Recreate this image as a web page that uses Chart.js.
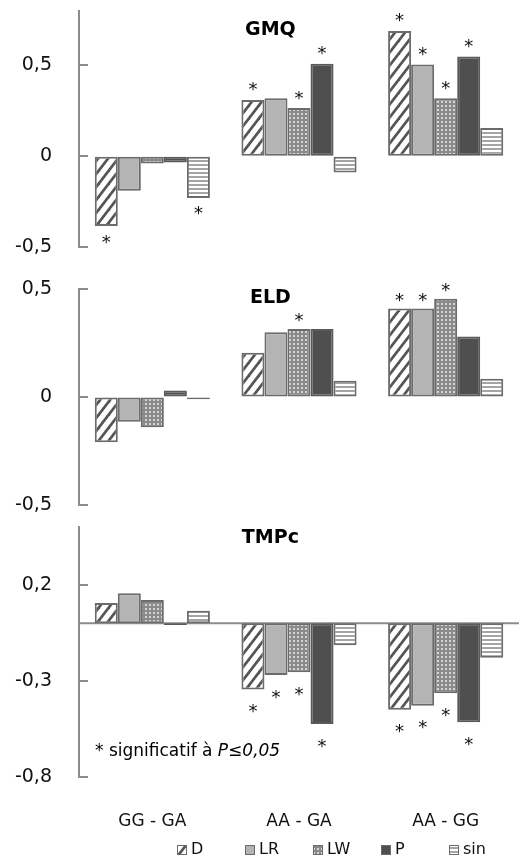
<!DOCTYPE html>
<html>
<head>
<meta charset="utf-8">
<script src="https://cdn.jsdelivr.net/npm/chart.js@4.4.0/dist/chart.umd.min.js"></script>
<style>
  html, body { margin: 0; padding: 0; background: #fff; }
  #wrap { position: relative; width: 519px; height: 861px; }
  canvas { position: absolute; left: 0; }
</style>
</head>
<body>
<div id="wrap">
  <canvas id="gmq" width="519" height="262" style="top:0"></canvas>
  <canvas id="eld" width="519" height="250" style="top:270px"></canvas>
  <canvas id="tmpc" width="519" height="346" style="top:515px"></canvas>
</div>
<script>
const categories = ['GG - GA', 'AA - GA', 'AA - GG']
const seriesNames = ['D', 'LR', 'LW', 'P', 'sin']

// GMQ
const gmqD = [-0.385, 0.31, 0.69]
const gmqLR = [-0.19, 0.32, 0.505]
const gmqLW = [-0.04, 0.265, 0.32]
const gmqP = [-0.035, 0.51, 0.55]
const gmqSin = [-0.23, -0.09, 0.155]
const gmqStars = [['D', 'sin'], ['D', 'LW', 'P'], ['D', 'LR', 'LW', 'P']]
const gmqTicks = [-0.5, 0, 0.5]
const gmqRange = [-0.5, 0.8]

// ELD
const eldD = [-0.21, 0.205, 0.41]
const eldLR = [-0.115, 0.30, 0.41]
const eldLW = [-0.14, 0.315, 0.455]
const eldP = [0.03, 0.315, 0.28]
const eldSin = [-0.01, 0.075, 0.085]
const eldStars = [[], ['LW'], ['D', 'LR', 'LW']]
const eldTicks = [-0.5, 0, 0.5]
const eldRange = [-0.5, 0.5]

// TMPc
const tmpcD = [0.105, -0.345, -0.45]
const tmpcLR = [0.155, -0.27, -0.43]
const tmpcLW = [0.12, -0.255, -0.365]
const tmpcP = [-0.01, -0.525, -0.515]
const tmpcSin = [0.065, -0.115, -0.18]
const tmpcStars = [[], ['D', 'LR', 'LW', 'P'], ['D', 'LR', 'LW', 'P']]
const tmpcTicks = [-0.8, -0.3, 0.2]
const tmpcRange = [-0.8, 0.5]

const FONT = '"DejaVu Sans", sans-serif'
const axisGray = '#8c8c8c'
const edge = '#6b6b6b'

function tile(w, h, paint) {
  const c = document.createElement('canvas')
  c.width = w; c.height = h
  const g = c.getContext('2d')
  paint(g, w, h)
  return g.createPattern(c, 'repeat')
}

// motifs des séries
const fills = {
  D: tile(10, 13, (g, w, h) => {
    g.fillStyle = '#fff'; g.fillRect(0, 0, w, h)
    g.strokeStyle = '#555'; g.lineWidth = 2.7
    for (let k = -1; k <= 1; k++) {
      g.beginPath()
      g.moveTo(w * (k - 1), 2 * h)
      g.lineTo(w * (k + 2), -h)
      g.stroke()
    }
  }),
  LR: '#b4b4b4',
  LW: tile(4, 4, (g, w, h) => {
    g.fillStyle = '#8a8a8a'; g.fillRect(0, 0, w, h)
    g.fillStyle = '#d4d4d4'; g.fillRect(1, 1, 2, 2)
  }),
  P: '#4f4f4f',
  sin: tile(4, 4, (g, w, h) => {
    g.fillStyle = '#fff'; g.fillRect(0, 0, w, h)
    g.fillStyle = '#a4a4a4'; g.fillRect(0, 0, w, 2)
  })
}

const fmt = v => String(v).replace('.', ',')

const decor = {
  id: 'decor',
  beforeDatasetsDraw(chart, args, o) {
    if (!o.zeroLine) return
    const { ctx, chartArea: a, scales: { y } } = chart
    const py = y.getPixelForValue(0)
    ctx.save()
    ctx.strokeStyle = axisGray
    ctx.lineWidth = 2
    ctx.beginPath(); ctx.moveTo(a.left, py); ctx.lineTo(a.right, py); ctx.stroke()
    ctx.restore()
  },
  afterDatasetsDraw(chart, args, o) {
    const { ctx, chartArea: a, scales: { y } } = chart
    ctx.save()

    // petites graduations vers l'intérieur
    ctx.strokeStyle = axisGray
    ctx.lineWidth = 2
    y.ticks.forEach(t => {
      const py = Math.round(y.getPixelForValue(t.value))
      ctx.beginPath(); ctx.moveTo(a.left, py); ctx.lineTo(a.left + 9, py); ctx.stroke()
    })

    // astérisques de significativité
    ctx.font = '18px ' + FONT
    ctx.fillStyle = '#111'
    ctx.textAlign = 'center'
    ctx.textBaseline = 'alphabetic'
    const m = ctx.measureText('*')
    const shift = (m.actualBoundingBoxAscent - m.actualBoundingBoxDescent) / 2
    chart.data.datasets.forEach((ds, i) => {
      chart.getDatasetMeta(i).data.forEach((bar, j) => {
        if (!o.stars[j].includes(ds.label)) return
        const cy = ds.data[j] >= 0 ? bar.y - o.starGap : bar.y + o.starGap
        ctx.fillText('*', bar.x, cy + shift)
      })
    })

    // titre du panneau
    ctx.font = 'bold 19px ' + FONT
    ctx.fillStyle = '#000'
    ctx.textBaseline = 'middle'
    ctx.fillText(o.title, a.left + 0.435 * (a.right - a.left), a.top + o.titleDy)

    // note
    if (o.note) {
      ctx.textAlign = 'left'
      ctx.font = '17px ' + FONT
      const x0 = a.left + 16
      const yy = a.bottom - 25
      ctx.fillText('* significatif à ', x0, yy)
      const w = ctx.measureText('* significatif à ').width
      ctx.font = 'italic 17px ' + FONT
      ctx.fillText('P≤0,05', x0 + w, yy)
    }

    // légende
    if (o.legend) {
      const items = Chart.defaults.plugins.legend.labels.generateLabels(chart)
      ctx.font = '16px ' + FONT
      ctx.textAlign = 'left'
      ctx.textBaseline = 'middle'
      const ly = chart.height - 11
      items.forEach((it, k) => {
        const x = 177 + k * 68
        ctx.fillStyle = it.fillStyle
        ctx.fillRect(x, ly - 5, 10, 10)
        ctx.strokeStyle = edge
        ctx.lineWidth = 1
        ctx.strokeRect(x + 0.5, ly - 4.5, 9, 9)
        ctx.fillStyle = '#111'
        ctx.fillText(it.text, x + 14, ly)
      })
    }
    ctx.restore()
  }
}

function panel(id, values, range, ticks, extra) {
  const datasets = seriesNames.map((name, i) => ({
    label: name,
    data: values[i],
    backgroundColor: fills[name],
    borderColor: name === 'P' ? '#5a5a5a' : edge,
    borderWidth: 2,
    borderSkipped: false,
    categoryPercentage: 0.785,
    barPercentage: 1
  }))
  return new Chart(document.getElementById(id), {
    type: 'bar',
    plugins: [decor],
    data: { labels: categories, datasets },
    options: {
      responsive: false,
      animation: false,
      layout: { padding: extra.padding },
      plugins: {
        legend: { display: false },
        tooltip: { enabled: false },
        decor: extra
      },
      scales: {
        x: {
          display: extra.showX,
          grid: { display: false },
          border: { display: false },
          ticks: {
            autoSkip: false,
            maxRotation: 0,
            padding: 26,
            color: '#111',
            font: { family: FONT, size: 17 }
          },
          afterFit: s => {
            s.paddingLeft = 0
            s.paddingRight = 0
            if (extra.showX) s.height = 84
          }
        },
        y: {
          min: range[0],
          max: range[1],
          afterBuildTicks: s => { s.ticks = ticks.map(v => ({ value: v })) },
          afterFit: s => {
            s.width = 79
            s.paddingTop = 0
            s.paddingBottom = 0
          },
          grid: { display: true, drawOnChartArea: false, drawTicks: false },
          border: { display: true, color: axisGray, width: 2 },
          ticks: {
            padding: 27,
            color: '#111',
            font: { family: FONT, size: 19 },
            callback: v => fmt(v)
          }
        }
      }
    }
  })
}

panel('gmq', [gmqD, gmqLR, gmqLW, gmqP, gmqSin], gmqRange, gmqTicks, {
  title: 'GMQ', titleDy: 19, stars: gmqStars, starGap: 13,
  padding: { top: 11, bottom: 15 }, showX: false
})
panel('eld', [eldD, eldLR, eldLW, eldP, eldSin], eldRange, eldTicks, {
  title: 'ELD', titleDy: 9, stars: eldStars, starGap: 11,
  padding: { top: 19, bottom: 15 }, showX: false
})
panel('tmpc', [tmpcD, tmpcLR, tmpcLW, tmpcP, tmpcSin], tmpcRange, tmpcTicks, {
  title: 'TMPc', titleDy: 11, stars: tmpcStars, starGap: 19,
  zeroLine: true, note: true, legend: true,
  padding: { top: 12, bottom: 0 }, showX: true
})
</script>
</body>
</html>
